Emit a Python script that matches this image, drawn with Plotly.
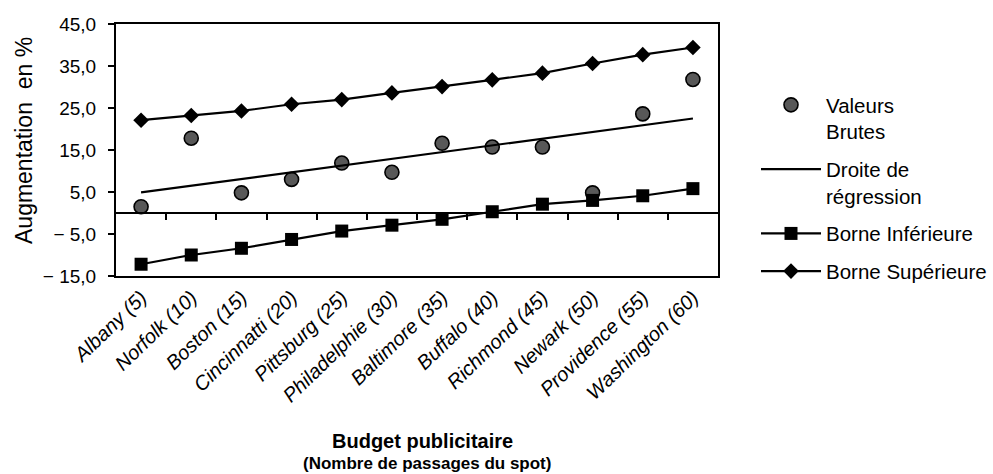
import plotly.graph_objects as go

# Cities with the number of spot airings (advertising budget)
categories = [
    "Albany (5)", "Norfolk (10)", "Boston (15)", "Cincinnatti (20)",
    "Pittsburg (25)", "Philadelphie (30)", "Baltimore (35)", "Buffalo (40)",
    "Richmond (45)", "Newark (50)", "Providence (55)", "Washington (60)",
]

# Observed sales increase (%)
valeurs_brutes = [1.5, 17.8, 4.8, 8.0, 11.9, 9.7, 16.6, 15.7, 15.7, 4.8, 23.6, 31.8]

# Fitted regression line and its lower / upper bounds (%)
droite_regression = [4.9, 6.5, 8.1, 9.7, 11.3, 12.9, 14.5, 16.1, 17.7, 19.3, 20.9, 22.5]
borne_inferieure = [-12.2, -10.0, -8.4, -6.3, -4.3, -2.9, -1.5, 0.3, 2.1, 3.0, 4.1, 5.8]
borne_superieure = [22.1, 23.2, 24.3, 25.9, 27.0, 28.6, 30.1, 31.7, 33.3, 35.6, 37.7, 39.4]

# Y axis ticks
ytick_vals = [-15, -5, 5, 15, 25, 35, 45]
ytick_text = ["\u2212 15,0", "\u2212 5,0", "5,0", "15,0", "25,0", "35,0", "45,0"]

FONT = "Liberation Sans, Arial, Helvetica, sans-serif"
x = list(range(len(categories)))
x_range = [-0.5, len(categories) - 0.5]

fig = go.Figure()

fig.add_trace(go.Scatter(
    x=x, y=valeurs_brutes, mode="markers",
    name="Valeurs<br>Brutes", legendgroup="a",
    marker=dict(symbol="circle", size=14, color="#585858",
                line=dict(color="black", width=1.6)),
))
# the regression line sits on the zero-line axis (same range as the main one)
fig.add_trace(go.Scatter(
    x=x, y=droite_regression, mode="lines", xaxis="x2",
    name="Droite de<br>régression", legendgroup="b",
    line=dict(color="black", width=2.2),
))
fig.add_trace(go.Scatter(
    x=x, y=borne_inferieure, mode="lines+markers",
    name="Borne Inférieure", legendgroup="c",
    line=dict(color="black", width=2.2),
    marker=dict(symbol="square", size=13, color="black"),
))
fig.add_trace(go.Scatter(
    x=x, y=borne_superieure, mode="lines+markers",
    name="Borne Supérieure", legendgroup="d",
    line=dict(color="black", width=2.2),
    marker=dict(symbol="diamond", size=12, color="black"),
))

fig.update_layout(
    width=993, height=474,
    margin=dict(l=116, r=275, t=24, b=198, pad=0, autoexpand=False),
    paper_bgcolor="white", plot_bgcolor="white",
    font=dict(family=FONT, size=19, color="black"),
    showlegend=True,
    legend=dict(
        x=(756 - 116) / 602, xanchor="left",
        y=1 - (85 - 24) / 252, yanchor="top",
        font=dict(family=FONT, size=20.5, color="black"),
        itemwidth=60, tracegroupgap=8, valign="top",
        bgcolor="rgba(0,0,0,0)", itemclick=False,
    ),
    xaxis=dict(
        range=x_range,
        tickvals=x, ticktext=categories, tickangle=-44,
        tickfont=dict(family=FONT, size=20, style="italic"),
        ticks="", showgrid=False, zeroline=False,
        showline=True, linecolor="black", linewidth=2, mirror=True,
    ),
    # zero line with category boundary ticks
    xaxis2=dict(
        overlaying="x", anchor="free", position=15 / 60,
        range=x_range,
        tickvals=[i + 0.5 for i in x[:-1]],
        ticks="outside", ticklen=6, tickwidth=2, tickcolor="black",
        showticklabels=False, showgrid=False, zeroline=False,
        showline=True, linecolor="black", linewidth=2,
    ),
    yaxis=dict(
        range=[-15, 45],
        tickvals=ytick_vals, ticktext=ytick_text,
        tickfont=dict(family=FONT, size=19),
        ticks="outside", ticklen=6, tickwidth=2, tickcolor="black",
        ticklabelstandoff=8,
        showgrid=False, zeroline=False,
        showline=True, linecolor="black", linewidth=2, mirror=True,
    ),
    annotations=[
        dict(text="Augmentation\u00a0 en %", textangle=-90,
             xref="paper", yref="paper",
             x=(24 - 116) / 602, y=(276 - 141) / 252,
             xanchor="center", yanchor="middle", showarrow=False,
             font=dict(family=FONT, size=23)),
        dict(text="<b>Budget publicitaire</b>",
             xref="paper", yref="paper",
             x=(422 - 116) / 602, y=(276 - 441) / 252,
             xanchor="center", yanchor="middle", showarrow=False,
             font=dict(family=FONT, size=20)),
        dict(text="<b>(Nombre de passages du spot)</b>",
             xref="paper", yref="paper",
             x=(427 - 116) / 602, y=(276 - 463) / 252,
             xanchor="center", yanchor="middle", showarrow=False,
             font=dict(family=FONT, size=17)),
    ],
)

fig.write_html("out.html")
